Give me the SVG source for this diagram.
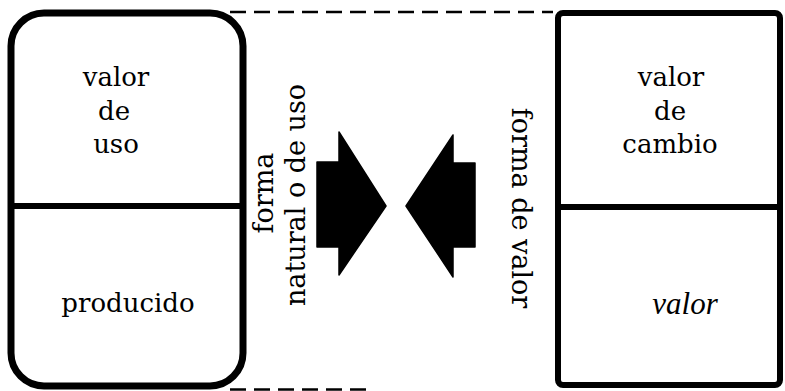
<svg xmlns="http://www.w3.org/2000/svg" width="785" height="391" viewBox="0 0 785 391">
<style>
.box{fill:none;stroke:#000;stroke-width:7;stroke-linejoin:round}
.div{stroke:#000;stroke-width:6}
.dash{stroke:#000;stroke-width:2.5;stroke-dasharray:16 8;fill:none}
.t{font-family:"DejaVu Serif","Liberation Serif",serif;font-size:26px;fill:#000;text-anchor:middle}
.i{font-family:"Liberation Serif",serif;font-style:italic;font-size:31px;fill:#000;text-anchor:middle}
.r{font-family:"DejaVu Serif","Liberation Serif",serif;font-size:27px;fill:#000;text-anchor:middle}
.arrow{fill:#000;stroke:#000;stroke-width:1.5;stroke-linejoin:round}
</style>
<rect width="785" height="391" fill="#fff"/>
<g id="connectors">
<line class="dash" x1="230" y1="12" x2="553" y2="12"/>
<line class="dash" x1="230" y1="389.5" x2="370" y2="389.5"/>
<polygon id="arrow-right" class="arrow" points="317,162 339,162 339,132 386,206 339,275 339,247 317,247"/>
<polygon id="arrow-left" class="arrow" points="406,206 453,135 453,163 475,163 475,247 453,247 453,277"/>
</g>
<g id="left-node">
<rect class="box" x="11" y="13" width="232" height="373" rx="33" ry="33"/>
<line class="div" x1="11" y1="206" x2="243" y2="206"/>
<text class="t" x="116" y="86">valor</text>
<text class="t" x="114" y="120">de</text>
<text class="t" x="116" y="153">uso</text>
<text class="t" x="128" y="312">producido</text>
</g>
<g id="right-node">
<rect class="box" x="558" y="13" width="222" height="372" rx="5" ry="5" style="stroke-width:6"/>
<line class="div" x1="558" y1="207" x2="780" y2="207"/>
<text class="t" x="671" y="86">valor</text>
<text class="t" x="670" y="120">de</text>
<text class="t" x="670" y="153">cambio</text>
<text class="i" x="685" y="314">valor</text>
</g>
<g id="left-label">
<text class="r" transform="translate(273,193) rotate(-90)">forma</text>
<text class="r" transform="translate(305,195) rotate(-90)">natural o de uso</text>
</g>
<g id="right-label">
<text class="r" transform="translate(512,208) rotate(90)">forma de valor</text>
</g>
</svg>
